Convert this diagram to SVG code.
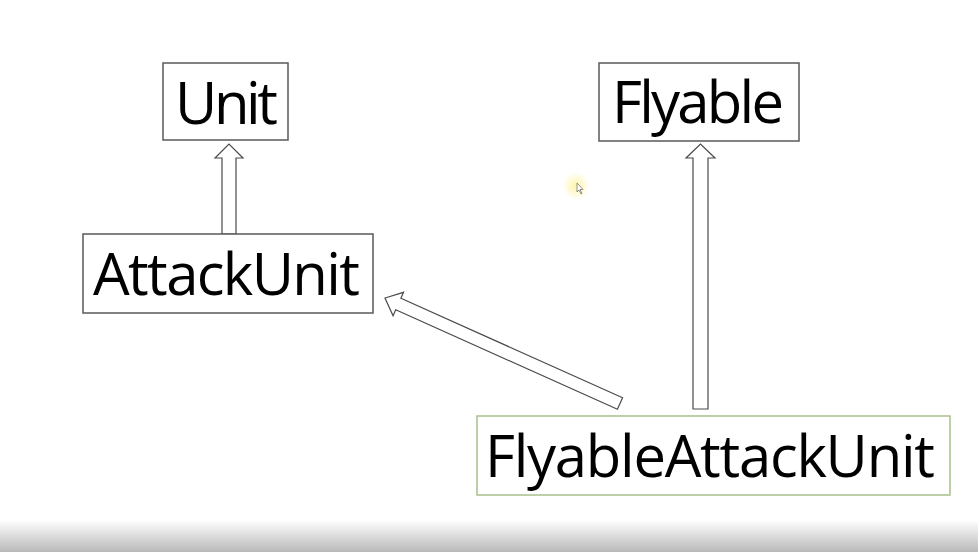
<svg xmlns="http://www.w3.org/2000/svg" width="978" height="552" viewBox="0 0 978 552">
<style>
.box{fill:#fff;stroke:#595959;stroke-width:1.5}
.box2{fill:#fff;stroke:#a9c08c;stroke-width:1.5}
.lbl{font-family:"Open Sans","Noto Sans","Liberation Sans",sans-serif;font-size:58px;fill:#000}
.arr{fill:#fff;stroke:#4a4a4a;stroke-width:1.2;stroke-linejoin:miter}
</style>
<defs>
<linearGradient id="bot" x1="0" y1="0" x2="0" y2="1">
<stop offset="0" stop-color="#ffffff"/>
<stop offset="1" stop-color="#b9b9b9"/>
</linearGradient>
<radialGradient id="glow">
<stop offset="0" stop-color="#fff3a0" stop-opacity="0.9"/>
<stop offset="1" stop-color="#fff3a0" stop-opacity="0"/>
</radialGradient>
</defs>
<rect x="0" y="0" width="978" height="552" fill="#fff"/>
<rect x="0" y="520" width="978" height="32" fill="url(#bot)"/>
<g id="connectors">
<polygon class="arr" points="222,234 222,158 215,158 229,144 243,158 236,158 236,234"/>
<polygon class="arr" points="693,409 693,158 686,158 700.5,144 715,158 708,158 708,409"/>
<g transform="translate(620,403.5) rotate(204.17)">
<polygon class="arr" points="0,-6.3 243,-6.3 243,-12.8 257.6,0 243,12.8 243,6.3 0,6.3"/>
</g>
</g>
<g id="node-unit">
<rect class="box" x="163" y="63" width="125" height="77"/>
<text class="lbl" x="175" y="124" textLength="103">Unit</text>
</g>
<g id="node-flyable">
<rect class="box" x="599" y="63" width="200" height="78"/>
<text class="lbl" x="612" y="123" textLength="172">Flyable</text>
</g>
<g id="node-attackunit">
<rect class="box" x="83" y="234" width="290" height="79"/>
<text class="lbl" x="93" y="295" textLength="267">AttackUnit</text>
</g>
<g id="node-flyableattackunit">
<rect class="box2" x="477" y="416" width="473" height="79"/>
<text class="lbl" x="485" y="477" textLength="450">FlyableAttackUnit</text>
</g>
<g id="cursor">
<circle cx="576" cy="186" r="14" fill="url(#glow)"/>
<path d="M577,183 L577,192 L579,190 L581,194 L582,193.5 L580,189.5 L583,189.5 Z" fill="#fff" stroke="#777" stroke-width="0.8"/>
</g>
</svg>
